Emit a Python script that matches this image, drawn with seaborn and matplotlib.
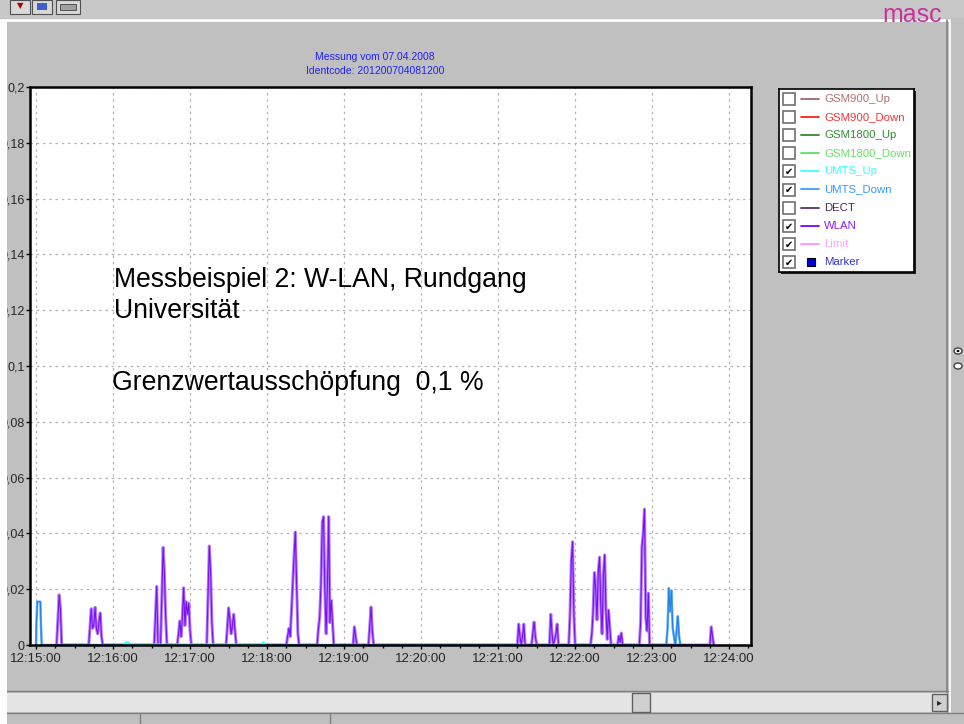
import matplotlib
matplotlib.use("Agg")
import matplotlib.pyplot as plt
import seaborn as sns
from matplotlib.patches import Rectangle, Circle
from matplotlib.lines import Line2D

# ---------------- data ----------------
TITLE_LINES = ["Messung vom 07.04.2008", "Identcode: 201200704081200"]
ANNOT_LINES = ["Messbeispiel 2: W-LAN, Rundgang", "Universität",
               "Grenzwertausschöpfung  0,1 %"]

XTICKS_S = [0, 60, 120, 180, 240, 300, 360, 420, 480, 540]
XTICK_LABELS = ["12:15:00", "12:16:00", "12:17:00", "12:18:00", "12:19:00",
                "12:20:00", "12:21:00", "12:22:00", "12:23:00", "12:24:00"]
YTICKS = [0, 0.02, 0.04, 0.06, 0.08, 0.10, 0.12, 0.14, 0.16, 0.18, 0.20]
YTICK_LABELS = ["0", "0,02", "0,04", "0,06", "0,08", "0,1", "0,12", "0,14",
                "0,16", "0,18", "0,2"]

LEGEND_NAMES = ["GSM900_Up", "GSM900_Down", "GSM1800_Up", "GSM1800_Down",
                "UMTS_Up", "UMTS_Down", "DECT", "WLAN", "Limit", "Marker"]
LEGEND_LINE_COLORS = ["#a06868", "#ff2020", "#308a30", "#60e060", "#40ffff",
                      "#3a9cff", "#603060", "#8000ff", "#ff90ff", "#0000e0"]
LEGEND_TEXT_COLORS = ["#b07070", "#ff3030", "#2f8a2f", "#66e066", "#33ffff",
                      "#3399ff", "#502850", "#8a1cff", "#ffa0ff", "#3333cc"]
LEGEND_CHECKED = [False, False, False, False, True, True, False, True, True, True]

# seconds after 12:15:00 and values
WLAN_T = [16, 17, 18, 19, 20,
          41, 42, 43, 44, 45, 46, 47, 48, 49, 50, 51, 52,
          92, 93, 94, 95, 97, 98, 99, 100, 101, 102,
          110, 111, 112, 113, 114, 115, 116, 117, 118, 119, 120, 121,
          133, 134, 135, 136, 137, 138,
          148, 149, 150, 151, 152, 153, 154, 155, 156,
          195, 196, 197, 198, 199, 200, 201, 202, 203, 204, 205,
          219, 220, 221, 222, 223, 224, 225, 226, 227, 228, 229, 230, 231, 232,
          247, 248, 249, 250,
          259, 260, 261, 262, 263,
          375, 376, 377, 378, 379, 380, 381,
          386, 387, 388, 389, 390,
          400, 401, 402, 403, 405, 406, 407,
          415, 416, 417, 418, 419, 420,
          432, 433, 434, 435, 436, 437, 438, 439, 440, 441, 442, 443, 444, 445, 446, 447, 448,
          453, 454, 455, 456, 457,
          470, 471, 472, 473, 474, 475, 476, 477, 478,
          525, 526, 527, 528]
WLAN_V = [0, 0.009, 0.018, 0.013, 0,
          0, 0.006, 0.013, 0.006, 0.007, 0.0135, 0.006, 0.004, 0.008, 0.0115, 0.003, 0,
          0, 0.010, 0.021, 0, 0, 0.017, 0.035, 0.026, 0.010, 0,
          0, 0.004, 0.0086, 0.003, 0.010, 0.0205, 0.007, 0.0155, 0.011, 0.015, 0.005, 0,
          0, 0.018, 0.0355, 0.026, 0.008, 0,
          0, 0.006, 0.0133, 0.009, 0.004, 0.007, 0.011, 0.005, 0,
          0, 0.003, 0.006, 0.003, 0.012, 0.022, 0.032, 0.0405, 0.023, 0.004, 0,
          0, 0.006, 0.010, 0.022, 0.044, 0.046, 0.020, 0.004, 0.022, 0.046, 0.008, 0.016, 0.008, 0,
          0, 0.0065, 0.003, 0,
          0, 0.007, 0.0136, 0.005, 0,
          0, 0.0075, 0.003, 0, 0.003, 0.0075, 0,
          0, 0.004, 0.0082, 0.003, 0,
          0, 0.011, 0.004, 0, 0.004, 0.0075, 0,
          0, 0.011, 0.030, 0.037, 0.011, 0,
          0, 0.004, 0.012, 0.026, 0.020, 0.009, 0.026, 0.0315, 0.014, 0.004, 0.025, 0.0323, 0.012, 0.002, 0.0125, 0.006, 0,
          0, 0.0032, 0.001, 0.0043, 0,
          0, 0.008, 0.035, 0.040, 0.0487, 0.010, 0.005, 0.0186, 0,
          0, 0.0065, 0.003, 0]

UMTS_DOWN_T = [0, 0.3, 1, 3.4, 3.8, 4.4,
               491, 492, 493, 494, 495, 496, 497, 498, 499, 500, 501, 502]
UMTS_DOWN_V = [0, 0.0075, 0.0155, 0.0155, 0.0075, 0,
               0, 0.006, 0.0204, 0.012, 0.0195, 0.006, 0.003, 0, 0.005, 0.0103, 0.003, 0]

UMTS_UP_T = [69, 70, 72, 73, 176, 177, 178]
UMTS_UP_V = [0, 0.0008, 0.0008, 0, 0, 0.0008, 0]

# ---------------- figure ----------------
W, H = 964, 724
sns.set_theme(style="white")
plt.rcParams["font.family"] = ["Liberation Sans", "DejaVu Sans"]

fig = plt.figure(figsize=(W / 100, H / 100), dpi=100, facecolor="#c0c0c0")


def frect(x, y, w, h, z=0, **kw):
    fig.add_artist(Rectangle((x / W, 1 - (y + h) / H), w / W, h / H,
                             transform=fig.transFigure, zorder=z, **kw))


def fline(x0, y0, x1, y1, z=0, **kw):
    fig.add_artist(Line2D([x0 / W, x1 / W], [1 - y0 / H, 1 - y1 / H],
                          transform=fig.transFigure, zorder=z, **kw))


# window chrome
frect(0, 0, W, 18, z=0, facecolor="#c8c8c8", edgecolor="none")
fline(0, 19.5, 948, 19.5, color="white", lw=2)
for bx, bw in ((10, 20), (32, 20), (56, 24)):
    frect(bx, 0, bw, 14, z=1, facecolor="#d8d8d8", edgecolor="#505050", lw=0.8)
fig.text(20 / W, 1 - 6 / H, "▼", color="#b00000", fontsize=6,
         ha="center", va="center", family=["DejaVu Sans"])
frect(37, 3, 10, 7, z=2, facecolor="#4060d0", edgecolor="none")
frect(60, 4, 16, 6, z=2, facecolor="#a0a0a0", edgecolor="#404040", lw=0.6)
fig.text(882 / W, 1 - 22 / H, "masc", color="#c8329a", fontsize=18,
         ha="left", va="baseline")
fline(947, 20, 947, 712, color="#808080", lw=1.2)
fline(950, 20, 950, 712, color="white", lw=1.2)
fig.add_artist(Circle((958 / W, 1 - 351 / H), 4 / W, transform=fig.transFigure,
                      facecolor="white", edgecolor="#404040", lw=1))
fig.add_artist(Circle((958 / W, 1 - 351 / H), 1.5 / W, transform=fig.transFigure,
                      facecolor="black", edgecolor="none"))
fig.add_artist(Circle((958 / W, 1 - 366 / H), 4 / W, transform=fig.transFigure,
                      facecolor="white", edgecolor="#404040", lw=1))
fline(0, 691, 948, 691, color="#808080", lw=1)
frect(7, 693, 940, 19, facecolor="#e4e4e4", edgecolor="none")
frect(632, 693, 18, 19, z=1, facecolor="#d0d0d0", edgecolor="#606060", lw=1)
frect(932, 694, 15, 17, z=1, facecolor="#d0d0d0", edgecolor="#606060", lw=1)
fig.text(939.5 / W, 1 - 702.5 / H, "▸", fontsize=7, ha="center", va="center",
         family=["DejaVu Sans"])
fline(0, 713, W, 713, color="#808080", lw=1)
fline(140, 714, 140, 724, color="#808080", lw=1)
fline(330, 714, 330, 724, color="#808080", lw=1)

# main axes
ax = fig.add_axes([30 / W, 1 - 645 / H, (751 - 30) / W, (645 - 87) / H])
ax.set_facecolor("white")

sns.lineplot(x=WLAN_T, y=WLAN_V, ax=ax, color="#b57cff", lw=2.2,
             estimator=None, sort=False, zorder=2.1)
sns.lineplot(x=WLAN_T, y=WLAN_V, ax=ax, color="#7a10f0", lw=0.8,
             estimator=None, sort=False, zorder=2.2)
sns.lineplot(x=UMTS_DOWN_T, y=UMTS_DOWN_V, ax=ax, color="#5aaeff", lw=1.8,
             estimator=None, sort=False, zorder=2.3)
sns.lineplot(x=UMTS_DOWN_T, y=UMTS_DOWN_V, ax=ax, color="#1f7fe0", lw=0.7,
             estimator=None, sort=False, zorder=2.35)
sns.lineplot(x=UMTS_UP_T, y=UMTS_UP_V, ax=ax, color="#33ffff", lw=2,
             estimator=None, sort=False, zorder=2.4)

ax.set_xlim(-4.7, 557)
ax.set_ylim(0, 0.2)
ax.set_xticks(XTICKS_S)
ax.set_xticklabels(XTICK_LABELS)
ax.set_xticks([s for s in range(0, 556, 15) if s % 60], minor=True)
ax.set_yticks(YTICKS)
ax.set_yticklabels(YTICK_LABELS)
ax.set_xlabel("")
ax.set_ylabel("")
ax.grid(True, which="major", color="#b4b4b4", ls=(0, (2, 3)), lw=0.9)
ax.tick_params(axis="both", which="major", direction="out", length=3, width=1,
               color="black", labelsize=9, bottom=True, left=True)
ax.tick_params(axis="x", which="major", pad=3, labelsize=9.5)
ax.tick_params(axis="y", which="major", pad=0.6)
ax.tick_params(axis="x", which="minor", direction="out", length=2.5, width=1,
               color="black", bottom=True)
for side, sp in ax.spines.items():
    sp.set_color("black")
    sp.set_linewidth(1.8)
    sp.set_zorder(3)

# annotations
fig.text(375 / W, 1 - 57 / H, TITLE_LINES[0], color="#2020ff", fontsize=7.5,
         ha="center", va="center")
fig.text(375 / W, 1 - 71 / H, TITLE_LINES[1], color="#2020ff", fontsize=7.5,
         ha="center", va="center")
fig.text(114 / W, 1 - 287 / H, ANNOT_LINES[0], fontsize=19.2, color="black",
         ha="left", va="baseline")
fig.text(114 / W, 1 - 318 / H, ANNOT_LINES[1], fontsize=19.2, color="black",
         ha="left", va="baseline")
fig.text(112 / W, 1 - 390 / H, ANNOT_LINES[2], fontsize=19.2, color="black",
         ha="left", va="baseline")

# legend box
LX, LY, LW, LH = 779, 89, 135, 183
frect(LX + 2, LY + 2, LW, LH, z=5, facecolor="#202020", edgecolor="none")
lax = fig.add_axes([LX / W, 1 - (LY + LH) / H, LW / W, LH / H], zorder=6)
lax.set_xlim(0, LW)
lax.set_ylim(LH, 0)
lax.set_facecolor("white")
lax.set_xticks([])
lax.set_yticks([])
for sp in lax.spines.values():
    sp.set_color("black")
    sp.set_linewidth(1.2)
for i, name in enumerate(LEGEND_NAMES):
    yc = 9.5 + i * 18.2
    lax.add_patch(Rectangle((4, yc - 6), 12, 12, facecolor="white",
                            edgecolor="#707070", lw=1.2))
    if LEGEND_CHECKED[i]:
        lax.text(10, yc + 0.5, "✔", fontsize=7, ha="center", va="center",
                 color="black", family=["DejaVu Sans"])
    if name == "Marker":
        lax.add_patch(Rectangle((28, yc - 4), 8, 8, facecolor="#0000dd",
                                edgecolor="black", lw=0.8))
    else:
        lax.plot([22, 40], [yc, yc], color=LEGEND_LINE_COLORS[i], lw=1.3)
    lax.text(45, yc, name, color=LEGEND_TEXT_COLORS[i], fontsize=8.2,
             ha="left", va="center")

# white strip on the left edge (screenshot crop)
frect(0, 20, 7, 704, z=10, facecolor="white", edgecolor="none")

fig.savefig("out.png", dpi=100, facecolor=fig.get_facecolor())
